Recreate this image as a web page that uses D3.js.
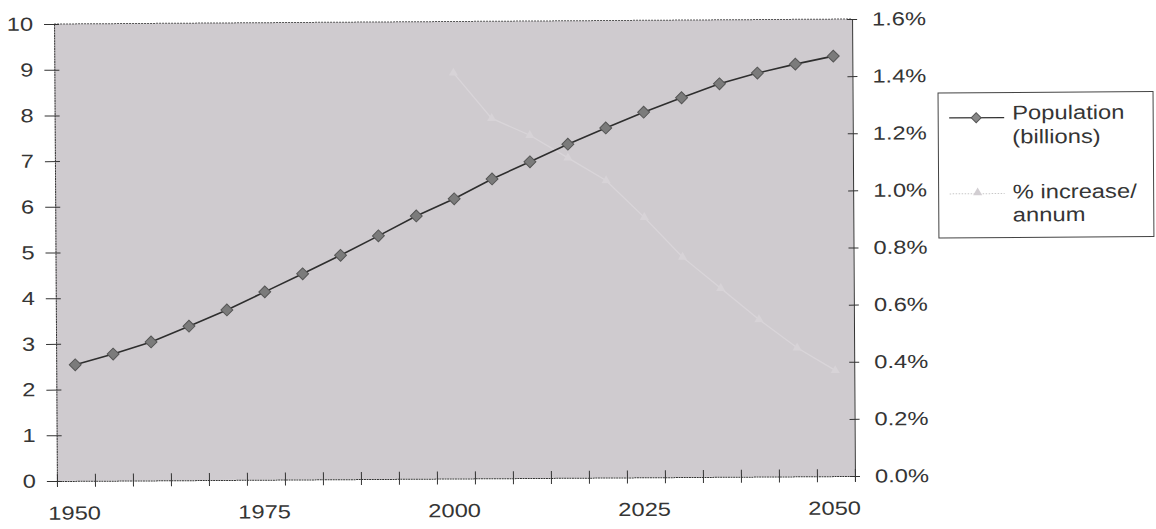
<!DOCTYPE html>
<html><head><meta charset="utf-8">
<script src="https://cdn.jsdelivr.net/npm/d3@7"></script>
<style>
html,body{margin:0;padding:0;background:#fff;}
svg{display:block;}
text{font-family:"Liberation Sans",Arial,sans-serif;fill:#353535;}
</style></head>
<body>
<svg id="chart" width="1156" height="529"></svg>
<script>
const years = [1950,1955,1960,1965,1970,1975,1980,1985,1990,1995,2000,2005,2010,2015,2020,2025,2030,2035,2040,2045,2050];
const population = [2.54,2.77,3.03,3.37,3.72,4.11,4.50,4.90,5.32,5.75,6.12,6.55,6.92,7.30,7.65,7.99,8.30,8.60,8.83,9.02,9.19];
const pctIncrease = [null,null,null,null,null,null,null,null,null,null,1.42,1.26,1.20,1.12,1.04,0.91,0.77,0.66,0.55,0.45,0.37];
const yLeftTicks = [0,1,2,3,4,5,6,7,8,9,10];
const yRightTicks = [0,0.2,0.4,0.6,0.8,1.0,1.2,1.4,1.6];
const xLabelYears = [1950,1975,2000,2025,2050];
const seriesNames = ["Population\n(billions)","% increase/\nannum"];

const X0=55.5, X1=853.5, Y0=21.5, Y1=478.5;
const SX=1.26, FS=18.8;

const svg = d3.select("#chart");
const root = svg.append("g").attr("transform","rotate(-0.36,454.5,250)");

const x = d3.scaleBand().domain(years).range([X0,X1]).paddingInner(0).paddingOuter(0);
const xc = d => x(d)+x.bandwidth()/2;
const xIdx = d3.scaleLinear().domain([0,years.length]).range([X0,X1]);
const yL = d3.scaleLinear().domain([0,10]).range([Y1,Y0]);
const yR = d3.scaleLinear().domain([0,1.6]).range([Y1,Y0]);

// plot background
root.append("rect").attr("x",X0).attr("y",Y0).attr("width",X1-X0).attr("height",Y1-Y0)
  .attr("fill","#cfcbcf");
// top border
root.append("line").attr("x1",X0).attr("x2",X1).attr("y1",Y0).attr("y2",Y0)
  .attr("stroke","#555").attr("stroke-width",1).attr("stroke-dasharray","2,1");

function stretch(sel){
  sel.each(function(){
    const t=d3.select(this);
    const tx=+t.attr("x")||0;
    t.attr("x",0).attr("transform",`translate(${tx},0) scale(${SX},1)`);
  });
}

// left axis
const gL = root.append("g").attr("transform",`translate(${X0},0)`)
  .call(d3.axisLeft(yL).tickValues(yLeftTicks).tickFormat(d3.format("d")).tickSize(10).tickPadding(11));
gL.select(".domain").attr("stroke","#333").attr("stroke-dasharray","2,0.6");
gL.selectAll(".tick line").attr("x1",5).attr("x2",-10).attr("stroke","#333");
gL.selectAll("text").attr("font-size",FS).attr("fill","#353535");
stretch(gL.selectAll("text"));
gL.attr("font-family",null);

// right axis
const gR = root.append("g").attr("transform",`translate(${X1},0)`)
  .call(d3.axisRight(yR).tickValues(yRightTicks).tickFormat(d=>d.toFixed(1)+"%").tickSize(5).tickPadding(15));
gR.select(".domain").attr("stroke","#333");
gR.selectAll(".tick line").attr("x1",-5).attr("x2",5).attr("stroke","#333");
gR.selectAll("text").attr("font-size",FS).attr("fill","#353535");
stretch(gR.selectAll("text"));
gR.attr("font-family",null);

// bottom axis (ticks between categories)
const gB = root.append("g").attr("transform",`translate(0,${Y1})`)
  .call(d3.axisBottom(xIdx).tickValues(d3.range(0,years.length+1)).tickFormat("").tickSize(6));
gB.select(".domain").attr("stroke","#333").attr("stroke-dasharray","2,0.6");
gB.selectAll(".tick line").attr("y1",-7).attr("y2",6).attr("stroke","#333");
const gBL = root.append("g").attr("transform",`translate(-1.5,${Y1})`)
  .call(d3.axisBottom(x).tickValues(xLabelYears).tickSize(0).tickPadding(0));
gBL.select(".domain").remove();
gBL.selectAll("text").attr("font-size",FS).attr("y",32).attr("dy","0.35em").attr("fill","#353535");
stretch(gBL.selectAll("text"));
gBL.attr("font-family",null);

// % increase series (very faint)
const pctPts = years.map((yr,i)=>({yr,v:pctIncrease[i]})).filter(d=>d.v!=null);
root.append("path").datum(pctPts)
  .attr("d",d3.line().x(d=>xc(d.yr)).y(d=>yR(d.v)))
  .attr("fill","none").attr("stroke","#d9d5d9").attr("stroke-width",1.3);
root.selectAll(".tri").data(pctPts).enter().append("path")
  .attr("transform",d=>`translate(${xc(d.yr)},${yR(d.v)})`)
  .attr("d",d3.symbol(d3.symbolTriangle,36)())
  .attr("fill","#d7d3d7");

// population series
const popPts = years.map((yr,i)=>({yr,v:population[i]}));
root.append("path").datum(popPts)
  .attr("d",d3.line().x(d=>xc(d.yr)).y(d=>yL(d.v)))
  .attr("fill","none").attr("stroke","#2e2e2e").attr("stroke-width",1.6);
root.selectAll(".dia").data(popPts).enter().append("rect")
  .attr("x",-4.2).attr("y",-4.2).attr("width",8.4).attr("height",8.4)
  .attr("transform",d=>`translate(${xc(d.yr)},${yL(d.v)}) rotate(45)`)
  .attr("fill","#7b7b7b").attr("stroke","#555").attr("stroke-width",1);

// legend
const lg = root.append("g");
lg.append("rect").attr("x",939).attr("y",96).attr("width",215).attr("height",145)
  .attr("fill","#fff").attr("stroke","#444").attr("stroke-width",1);
lg.append("line").attr("x1",950).attr("x2",1005).attr("y1",121).attr("y2",121).attr("stroke","#333").attr("stroke-width",1.3);
lg.append("rect").attr("x",-3.5).attr("y",-3.5).attr("width",7).attr("height",7)
  .attr("transform","translate(977,121) rotate(45)").attr("fill","#888").attr("stroke","#555");
lg.append("line").attr("x1",950).attr("x2",1005).attr("y1",197).attr("y2",197).attr("stroke","#c8c8c8").attr("stroke-width",1).attr("stroke-dasharray","1.5,1.5");
lg.append("path").attr("transform","translate(978,196)").attr("d",d3.symbol(d3.symbolTriangle,36)()).attr("fill","#d2ced2");
const legendLines = [
  {t:seriesNames[0].split("\n")[0], y:116},
  {t:seriesNames[0].split("\n")[1], y:140},
  {t:seriesNames[1].split("\n")[0], y:195},
  {t:seriesNames[1].split("\n")[1], y:218}
];
lg.selectAll(".lt").data(legendLines).enter().append("text")
  .attr("transform",d=>`translate(1013,${d.y}) scale(${SX-0.06},1)`)
  .attr("dy","0.35em").attr("font-size",19.8).text(d=>d.t);
</script>
</body></html>
